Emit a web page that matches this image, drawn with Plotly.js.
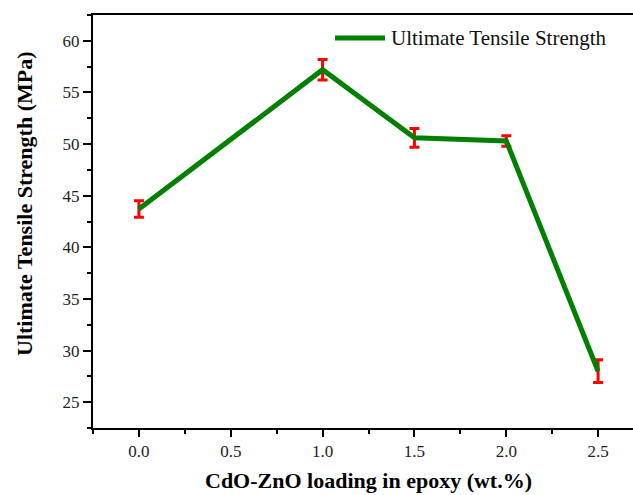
<!DOCTYPE html>
<html>
<head>
<meta charset="utf-8">
<script src="https://cdn.plot.ly/plotly-3.0.1.min.js"></script>
<style>
  html, body { margin: 0; padding: 0; background: #fff; overflow: hidden; }
  #chart { width: 633px; height: 495px; }
</style>
</head>
<body>
<div id="chart"></div>
<script>
// CdO-ZnO loading (wt.%) and measured ultimate tensile strength (MPa)
const loading = [0.0, 1.0, 1.5, 2.0, 2.5];
const strength = [43.7, 57.2, 50.6, 50.3, 28.0];
const strengthErr = [0.8, 1.0, 0.9, 0.5, 1.1];
const xTickVals = [0.0, 0.5, 1.0, 1.5, 2.0, 2.5];
const yTickVals = [25, 30, 35, 40, 45, 50, 55, 60];
const seriesName = 'Ultimate Tensile Strength';

const serif = 'Liberation Serif, Times New Roman, serif';

// Plot-area geometry in pixels, used to place the hand-drawn legend and titles
const W = 633, H = 495;
const M = { l: 93, r: 0, t: 15, b: 67 };
const pw = W - M.l - M.r, ph = H - M.t - M.b;
const px = x => (x - M.l) / pw;
const py = y => (H - M.b - y) / ph;

const trace = {
  x: loading,
  y: strength,
  type: 'scatter',
  mode: 'lines',
  name: seriesName,
  line: { color: '#008000', width: 5 },
  error_y: {
    type: 'data',
    array: strengthErr,
    visible: true,
    color: '#ff0000',
    thickness: 3,
    width: 5
  },
  showlegend: false
};

const layout = {
  width: W,
  height: H,
  margin: M,
  paper_bgcolor: '#fff',
  plot_bgcolor: '#fff',
  showlegend: false,
  font: { family: serif, color: '#222', size: 17 },
  xaxis: {
    range: [-0.25, 2.69],
    tickvals: xTickVals,
    tickformat: '.1f',
    ticks: 'outside',
    ticklen: 7,
    tickwidth: 2,
    tickcolor: '#000',
    showline: true,
    linecolor: '#000',
    linewidth: 2,
    mirror: true,
    showgrid: false,
    zeroline: false,
    tickfont: { family: serif, size: 17, color: '#222' },
    minor: { dtick: 0.25, tick0: 0, ticks: 'outside', ticklen: 4, tickwidth: 2, tickcolor: '#000', showgrid: false }
  },
  yaxis: {
    range: [22.5, 62.5],
    tickvals: yTickVals,
    ticks: 'outside',
    ticklen: 8,
    tickwidth: 2,
    tickcolor: '#000',
    showline: true,
    linecolor: '#000',
    linewidth: 2,
    showgrid: false,
    zeroline: false,
    tickfont: { family: serif, size: 17, color: '#222' },
    minor: { dtick: 2.5, tick0: 0, ticks: 'outside', ticklen: 4, tickwidth: 2, tickcolor: '#000', showgrid: false }
  },
  shapes: [
    // legend line sample
    {
      type: 'line', xref: 'paper', yref: 'paper',
      x0: px(335), x1: px(385), y0: py(38), y1: py(38),
      line: { color: '#008000', width: 5 }
    }
  ],
  annotations: [
    {
      text: seriesName, xref: 'paper', yref: 'paper',
      x: px(389), y: py(38), xanchor: 'left', yanchor: 'middle',
      showarrow: false, font: { family: serif, size: 21, color: '#111' }
    },
    {
      text: '<b>CdO-ZnO loading in epoxy (wt.%)</b>', xref: 'paper', yref: 'paper',
      x: px(368), y: py(480), xanchor: 'center', yanchor: 'middle',
      showarrow: false, font: { family: serif, size: 22, color: '#000' }
    },
    {
      text: '<b>Ultimate Tensile Strength (MPa)</b>', xref: 'paper', yref: 'paper',
      x: px(24), y: py(204), xanchor: 'center', yanchor: 'middle', textangle: -90,
      showarrow: false, font: { family: serif, size: 22, color: '#000' }
    }
  ]
};

Plotly.newPlot('chart', [trace], layout, { displayModeBar: false, staticPlot: true });
</script>
</body>
</html>
